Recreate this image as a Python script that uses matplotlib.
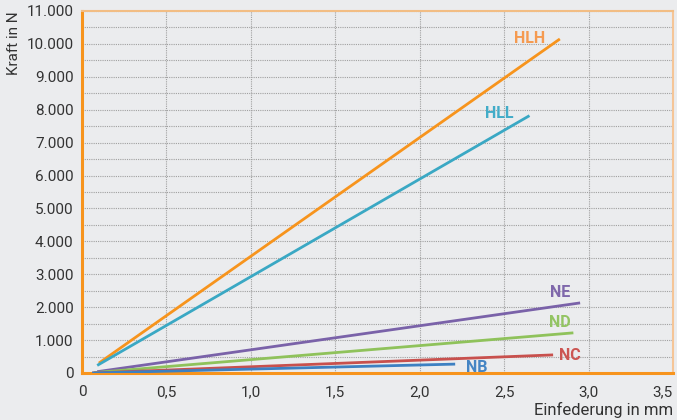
import matplotlib
matplotlib.use("Agg")
import matplotlib.pyplot as plt
from matplotlib.ticker import MultipleLocator

plt.rcParams['font.family'] = ['Roboto', 'DejaVu Sans']

# Data (Einfederung in mm, Kraft in N)
series_names = ["HLH", "HLL", "NE", "ND", "NC", "NB"]
hlh_x = [0.10, 2.83]
hlh_y = [300, 10150]
hll_x = [0.09, 2.65]
hll_y = [230, 7820]
ne_x = [0.09, 2.95]
ne_y = [40, 2130]
nd_x = [0.07, 2.91]
nd_y = [10, 1220]
nc_x = [0.06, 2.79]
nc_y = [0, 550]
nb_x = [0.06, 2.21]
nb_y = [0, 270]

x_ticks = [0, 0.5, 1.0, 1.5, 2.0, 2.5, 3.0, 3.5]
x_tick_labels = ["0", "0,5", "1,0", "1,5", "2,0", "2,5", "3,0", "3,5"]
y_ticks = [0, 1000, 2000, 3000, 4000, 5000, 6000, 7000, 8000, 9000, 10000, 11000]
y_tick_labels = ["0", "1.000", "2.000", "3.000", "4.000", "5.000", "6.000",
                 "7.000", "8.000", "9.000", "10.000", "11.000"]

colors = ["#f7941d", "#3aa8c4", "#7a62a9", "#8fc25b", "#c8504d", "#3d80c2"]
label_colors = ["#f59a50", "#42acc8", "#7f68ab", "#93c463", "#cc5552", "#4585c4"]
label_pos = [(2.65, 10150), (2.47, 7900), (2.83, 2450), (2.83, 1520), (2.89, 540), (2.34, 180)]

xs = [hlh_x, hll_x, ne_x, nd_x, nc_x, nb_x]
ys = [hlh_y, hll_y, ne_y, nd_y, nc_y, nb_y]

fig = plt.figure(figsize=(6.77, 4.2), dpi=100)
fig.patch.set_facecolor("#ebecee")
ax = fig.add_axes([82/677, 47/420, (673-82)/677, (373-11)/420])
ax.set_facecolor("#ebecee")

for x, y, c in zip(xs, ys, colors):
    ax.plot(x, y, color=c, lw=2.0, solid_capstyle='butt', zorder=3)
for name, (lx, ly), c in zip(series_names, label_pos, label_colors):
    ax.text(lx, ly, name, color=c, fontsize=11.5, fontweight='bold', ha='center', va='center', zorder=4)

ax.set_xlim(0, 3.5)
ax.set_ylim(0, 11000)
ax.set_xticks(x_ticks, x_tick_labels)
ax.set_yticks(y_ticks, y_tick_labels)
ax.yaxis.set_minor_locator(MultipleLocator(500))

ax.grid(True, which='both', axis='y', color='#a0a0a0', linestyle=(0, (1, 1)), lw=0.8)
ax.grid(True, which='major', axis='x', color='#a0a0a0', linestyle=(0, (1, 1)), lw=0.8)
ax.set_axisbelow(True)

ax.tick_params(axis='both', which='both', length=0, labelsize=11, colors='#333333')
ax.tick_params(axis='x', pad=9)
ax.tick_params(axis='y', pad=6)

ax.get_xticklabels()[-1].set_ha('right')

ax.spines['left'].set_color('#f7941d')
ax.spines['left'].set_linewidth(2.2)
ax.spines['bottom'].set_color('#f7941d')
ax.spines['bottom'].set_linewidth(2.2)
ax.spines['top'].set_color('#f2bd84')
ax.spines['top'].set_linewidth(1.5)
ax.spines['right'].set_color('#f5c597')
ax.spines['right'].set_linewidth(1.5)

fig.text(14/677, 1 - 11/420, "Kraft in N", rotation=90, ha='center', va='top', fontsize=11, color='#333333')
fig.text(673/677, 1 - 410/420, "Einfederung in mm", ha='right', va='center', fontsize=12, color='#333333')

fig.savefig("out.png", dpi=100, facecolor=fig.get_facecolor())
